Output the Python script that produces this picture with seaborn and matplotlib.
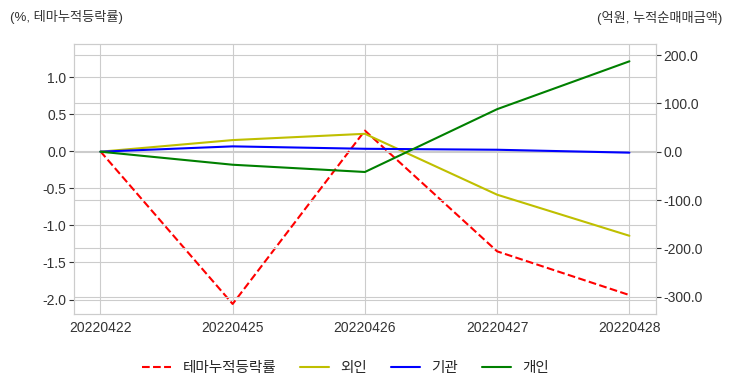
import matplotlib
matplotlib.use("Agg")
import matplotlib.pyplot as plt
import seaborn as sns

dates = ["20220422", "20220425", "20220426", "20220427", "20220428"]
theme_rate = [0.0, -2.06, 0.28, -1.35, -1.94]   # %, left axis
foreign = [0, 24, 37, -89, -174]                 # 억원, right axis
institution = [0, 11, 6, 4, -2]
individual = [0, -27, -42, 88, 187]

sns.set_style("whitegrid")
plt.rcParams['font.family'] = ['Liberation Sans', 'Noto Sans CJK KR', 'DejaVu Sans']
plt.rcParams['axes.unicode_minus'] = False

fig, ax1 = plt.subplots(figsize=(7.32, 3.92), dpi=100)
fig.subplots_adjust(left=0.101, right=0.896, top=0.888, bottom=0.2)

sns.lineplot(x=dates, y=theme_rate, ax=ax1, color="r", linestyle="--",
             label="테마누적등락률", legend=False)
ax1.set_ylim(-2.19, 1.45)
ax1.set_yticks([-2.0, -1.5, -1.0, -0.5, 0.0, 0.5, 1.0])
ax1.set_yticklabels([f"{v:.1f}" for v in [-2.0, -1.5, -1.0, -0.5, 0.0, 0.5, 1.0]])

ax2 = ax1.twinx()
sns.lineplot(x=dates, y=foreign, ax=ax2, color="y", label="외인", legend=False)
sns.lineplot(x=dates, y=institution, ax=ax2, color="b", label="기관", legend=False)
sns.lineplot(x=dates, y=individual, ax=ax2, color="g", label="개인", legend=False)
ax2.set_ylim(-335, 223)
ax2.set_yticks([-300, -200, -100, 0, 100, 200])
ax2.set_yticklabels([f"{v:.1f}" for v in [-300, -200, -100, 0, 100, 200]])

for ax in (ax1, ax2):
    ax.tick_params(labelsize=10, colors="#333333", pad=2)
    for s in ax.spines.values():
        s.set_color("#cccccc")

fig.text(0.013, 0.957, "(%, 테마누적등락률)", fontsize=9.5, color="#333333", va="center")
fig.text(0.987, 0.955, "(억원, 누적순매매금액)", fontsize=9.5, color="#333333", va="center", ha="right")

h1, l1 = ax1.get_legend_handles_labels()
h2, l2 = ax2.get_legend_handles_labels()
fig.legend(h1 + h2, l1 + l2, loc="center", bbox_to_anchor=(0.472, 0.06), ncol=4,
           frameon=False, fontsize=10.5, columnspacing=1.6)

fig.savefig("out.png", dpi=100)
